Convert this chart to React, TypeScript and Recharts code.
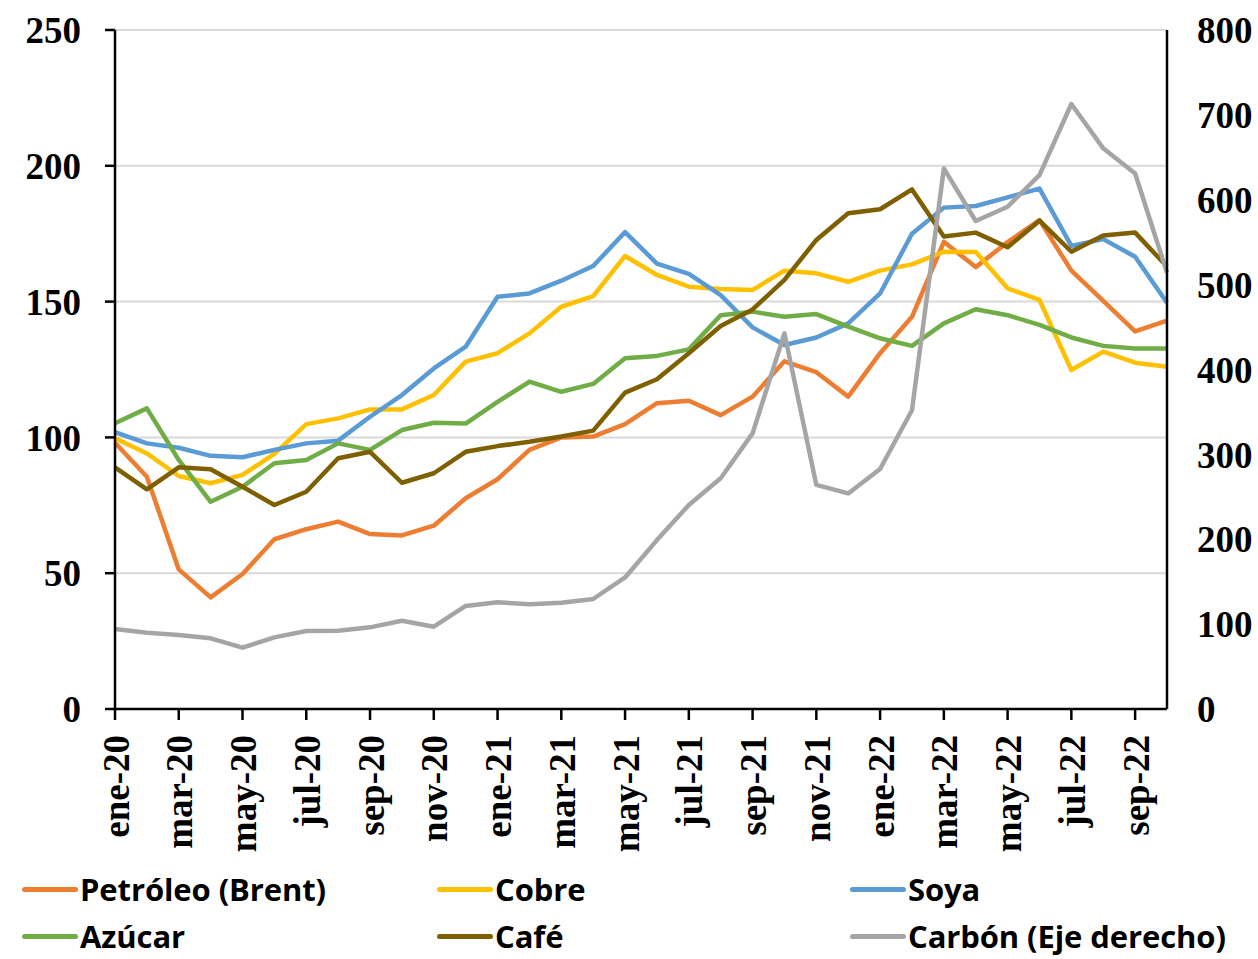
import React from 'react';
import { LineChart, Line, XAxis, YAxis, CartesianGrid } from 'recharts';

const meses = ['ene', 'feb', 'mar', 'abr', 'may', 'jun', 'jul', 'ago', 'sep', 'oct', 'nov', 'dic'];
const periodos: string[] = [];
for (const yy of ['20', '21', '22']) {
    for (const m of meses) periodos.push(`${m}-${yy}`);
}
const categorias = periodos.slice(0, 34); // ene-20 .. oct-22

const petroleo = [98, 85.5, 51.4, 41.1, 49.7, 62.5, 66.2, 69, 64.4, 63.9, 67.5, 77.6, 84.6, 95.4, 100, 100.3, 104.9, 112.6, 113.5, 108.2, 115, 128, 124, 115, 131, 144.4, 172, 162.7, 171.9, 180, 161.4, 150.3, 139, 143];
const cobre = [99.7, 94.1, 85.8, 83.1, 86.2, 93.9, 104.9, 107, 110.3, 110.3, 115.6, 127.9, 131, 138.3, 148.1, 152, 166.8, 159.8, 155.5, 154.6, 154.3, 161.4, 160.4, 157.3, 161.4, 163.7, 168.4, 168.3, 154.9, 150.6, 124.8, 131.6, 127.5, 126];
const soya = [101.9, 97.8, 96.2, 93.2, 92.7, 95.4, 97.8, 98.8, 107.6, 115.6, 125.4, 133.4, 151.8, 153, 157.7, 163.1, 175.6, 164, 160.2, 152.4, 140.5, 134, 136.8, 142, 153, 175, 184.6, 185.2, 188.4, 191.6, 170.5, 173, 166.5, 149.6];
const azucar = [105.2, 110.7, 91.7, 76.3, 81.8, 90.5, 91.7, 97.8, 95.4, 102.7, 105.4, 105.1, 113.1, 120.5, 116.8, 119.7, 129.1, 130, 132.4, 145, 146.3, 144.4, 145.4, 140.8, 136.5, 133.7, 142, 147.2, 145, 141.4, 136.8, 133.7, 132.7, 132.7];
const cafe = [89, 80.9, 89, 88.3, 81.8, 75.1, 80, 92.3, 94.7, 83.3, 86.8, 94.7, 96.8, 98.4, 100.3, 102.5, 116.5, 121.4, 131, 141, 147.1, 158, 172.7, 182.5, 184, 191.3, 174, 175.4, 170, 179.8, 168.4, 174.3, 175.4, 162.9];
const carbon = [94.2, 89.9, 87.2, 83.3, 72.3, 84.4, 91.9, 92.3, 96.2, 104, 97, 121.4, 125.7, 123.3, 125.2, 129.6, 155, 199, 240.4, 271.8, 324.8, 442.6, 264, 254, 282.8, 352, 636.9, 575, 591.8, 629, 712.8, 660.6, 631, 514];

const ticksIzq = [0, 50, 100, 150, 200, 250];
const ticksDer = [0, 100, 200, 300, 400, 500, 600, 700, 800];

const series = [
    { key: 'petroleo', nombre: 'Petróleo (Brent)', color: '#ED7D31', eje: 'izq', valores: petroleo },
    { key: 'cobre', nombre: 'Cobre', color: '#FFC000', eje: 'izq', valores: cobre },
    { key: 'soya', nombre: 'Soya', color: '#5B9BD5', eje: 'izq', valores: soya },
    { key: 'azucar', nombre: 'Azúcar', color: '#70AD47', eje: 'izq', valores: azucar },
    { key: 'cafe', nombre: 'Café', color: '#7F6000', eje: 'izq', valores: cafe },
    { key: 'carbon', nombre: 'Carbón (Eje derecho)', color: '#A5A5A5', eje: 'der', valores: carbon },
];

const data = categorias.map((mes, i) => {
    const row: Record<string, string | number> = { mes };
    series.forEach((s) => { row[s.key] = s.valores[i]; });
    return row;
});

const SERIF = '"Liberation Serif", "DejaVu Serif", serif';
const SANS = '"Open Sans", Lato, sans-serif';

const TickMes = (props: any) => {
    const { x, y, payload } = props;
    return (
        <g transform={`translate(${x},${y})`}>
            <text
                transform="rotate(-90)"
                x={-13}
                y={1}
                textAnchor="end"
                dominantBaseline="central"
                fontFamily={SERIF}
                fontWeight={700}
                fontSize={37}
                fill="#000"
            >
                {payload.value}
            </text>
        </g>
    );
};

const legendPos = [
    { left: 20, top: 889 },
    { left: 435, top: 889 },
    { left: 848, top: 889 },
    { left: 20, top: 936 },
    { left: 435, top: 936 },
    { left: 848, top: 936 },
];

export default function App() {
    return (
        <div style={{ position: 'absolute', left: 0, top: 0, width: 1258, height: 959, background: '#fff' }}>
            <LineChart width={1258} height={959} data={data} margin={{ top: 30, right: 0, left: 0, bottom: 100 }}>
                <CartesianGrid vertical={false} stroke="#d9d9d9" strokeWidth={2} yAxisId="izq" />
                <XAxis
                    dataKey="mes"
                    interval={1}
                    height={150}
                    tickSize={11}
                    tickLine={{ stroke: '#000', strokeWidth: 2.5 }}
                    axisLine={{ stroke: '#000', strokeWidth: 2.5 }}
                    tick={<TickMes />}
                    padding={{ left: 0, right: 0 }}
                />
                <YAxis
                    yAxisId="izq"
                    domain={[0, 250]}
                    ticks={ticksIzq}
                    width={115}
                    tickSize={10}
                    tickMargin={24}
                    tickLine={{ stroke: '#000', strokeWidth: 2.5 }}
                    axisLine={{ stroke: '#000', strokeWidth: 2.5 }}
                    tick={{ fill: '#000', fontSize: 37, fontWeight: 700, fontFamily: SERIF }}
                />
                <YAxis
                    yAxisId="der"
                    orientation="right"
                    domain={[0, 800]}
                    ticks={ticksDer}
                    width={91}
                    tickSize={0}
                    tickMargin={30}
                    tickLine={false}
                    axisLine={{ stroke: '#000', strokeWidth: 2.5 }}
                    tick={{ fill: '#000', fontSize: 37, fontWeight: 700, fontFamily: SERIF, textAnchor: 'start' }}
                />
                {series.map((s) => (
                    <Line
                        key={s.key}
                        yAxisId={s.eje}
                        dataKey={s.key}
                        name={s.nombre}
                        stroke={s.color}
                        strokeWidth={4.5}
                        strokeLinejoin="round"
                        dot={false}
                        isAnimationActive={false}
                    />
                ))}
            </LineChart>
            {series.map((s, i) => (
                <div
                    key={s.key}
                    style={{
                        position: 'absolute',
                        left: legendPos[i].left,
                        top: legendPos[i].top - 18,
                        height: 36,
                        lineHeight: '36px',
                        display: 'flex',
                        alignItems: 'center',
                        fontFamily: SANS,
                        fontSize: 31,
                        fontWeight: 700,
                        color: '#000',
                        whiteSpace: 'nowrap',
                        letterSpacing: -0.1,
                    }}
                >
                    <span style={{ display: 'inline-block', width: 56, height: 5, borderRadius: 3, background: s.color, marginLeft: 2, marginRight: 2 }} />
                    {s.nombre}
                </div>
            ))}
        </div>
    );
}
